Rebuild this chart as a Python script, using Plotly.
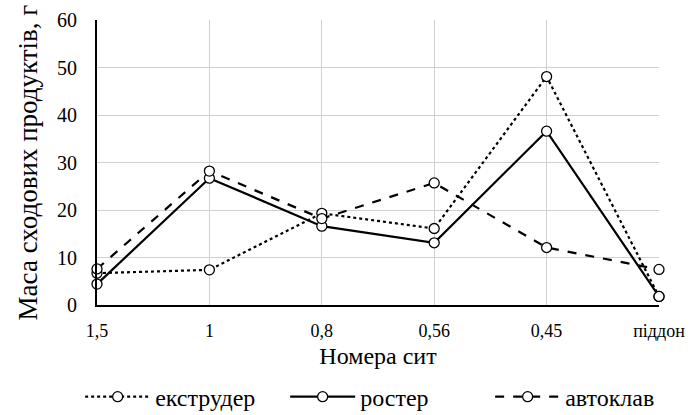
import plotly.graph_objects as go

categories = ["1,5", "1", "0,8", "0,56", "0,45", "піддон"]
extruder = [6.7, 7.4, 19.3, 16.1, 48.1, 1.8]
roster = [4.4, 26.7, 16.6, 13.1, 36.6, 1.8]
autoclave = [7.6, 28.2, 18.2, 25.7, 12.1, 7.5]

names = ["екструдер", "ростер", "автоклав"]
dashes = ["dot", "solid", "dash"]
series = [extruder, roster, autoclave]

FONT = "Liberation Serif"

fig = go.Figure()
for name, vals, dash in zip(names, series, dashes):
    fig.add_trace(go.Scatter(
        x=categories, y=vals, name=name, mode="lines+markers",
        line=dict(color="black", width=2.2, dash=dash),
        marker=dict(symbol="circle", size=10, color="white",
                    line=dict(color="black", width=1.3)),
        cliponaxis=False,
    ))

fig.update_layout(
    width=692, height=415,
    margin=dict(l=97, r=33, t=20, b=110, autoexpand=False),
    plot_bgcolor="white", paper_bgcolor="white",
    font=dict(family=FONT, color="black", size=18),
    showlegend=True,
    legend=dict(orientation="h", x=-0.03, xanchor="left", y=-0.323, yanchor="middle",
                font=dict(size=24, family=FONT, color="black"), itemwidth=65,
                entrywidth=125, entrywidthmode="pixels",
                traceorder="normal", bgcolor="rgba(0,0,0,0)"),
    xaxis=dict(
        type="category", range=[0, 5], automargin=False,
        showline=True, linecolor="black", linewidth=2,
        showgrid=True, gridcolor="#d0d0d0", gridwidth=1,
        ticks="", tickfont=dict(size=18, family=FONT, color="black"), ticklabelstandoff=8,
        title=dict(text="Номера сит", font=dict(size=24, family=FONT, color="black"), standoff=8),
        zeroline=False,
    ),
    yaxis=dict(
        range=[0, 60], dtick=10, automargin=False,
        showline=True, linecolor="black", linewidth=2,
        showgrid=True, gridcolor="#d0d0d0", gridwidth=1,
        ticks="", tickfont=dict(size=20, family=FONT, color="black"), ticklabelstandoff=14,
        title=dict(text="Маса сходових продуктів, г", font=dict(size=27, family=FONT, color="black"), standoff=12),
        zeroline=False,
    ),
)

fig.write_html("out.html", include_plotlyjs=True)
